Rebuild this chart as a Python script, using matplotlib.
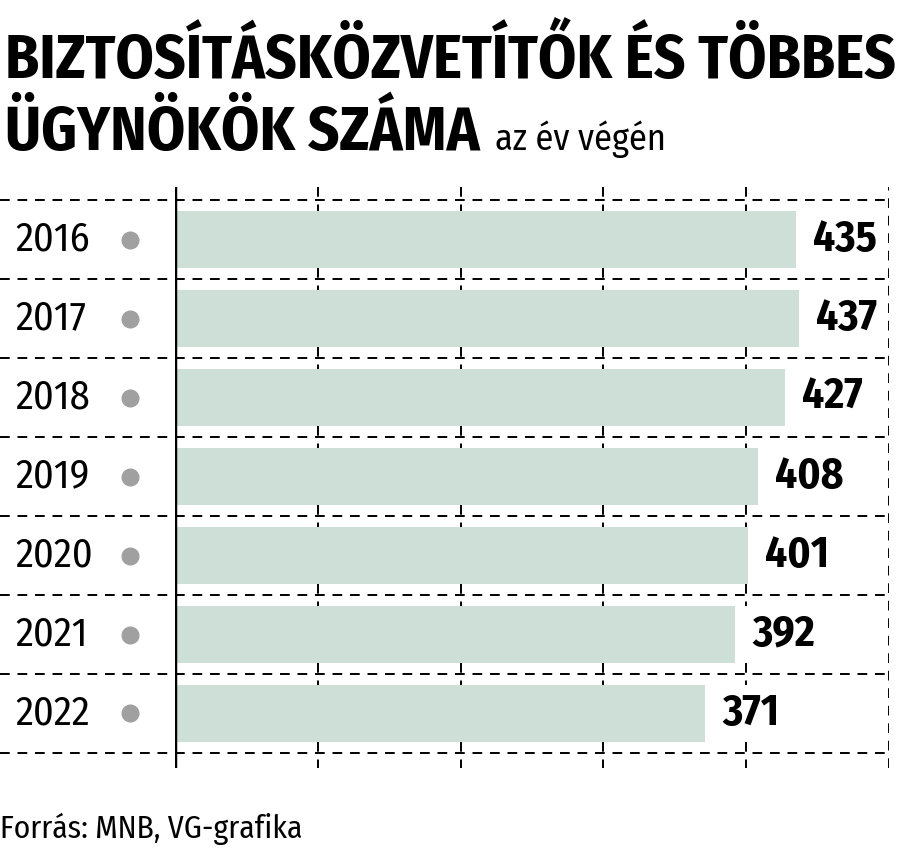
import matplotlib
matplotlib.use("Agg")
import matplotlib.pyplot as plt
from matplotlib import font_manager

years = ["2016", "2017", "2018", "2019", "2020", "2021", "2022"]
values = [435, 437, 427, 408, 401, 392, 371]

title_1 = "BIZTOSÍTÁSKÖZVETÍTŐK ÉS TÖBBES"
title_2 = "ÜGYNÖKÖK SZÁMA"
subtitle = "az év végén"
source = "Forrás: MNB, VG-grafika"

# condensed family close to the original, first one installed wins
names = {f.name for f in font_manager.fontManager.ttflist}
cands = ["Fira Sans Condensed", "PT Sans Narrow", "Roboto Condensed",
         "Liberation Sans Narrow", "DejaVu Sans"]
FONT = [c for c in cands if c in names][0]
plt.rcParams['font.family'] = [FONT, "DejaVu Sans"]

W, H = 900, 864
fig = plt.figure(figsize=(W / 100, H / 100), dpi=100)
# axes box in pixels: x 175..889, y 187..768
ax = fig.add_axes([175 / W, 1 - 768 / H, (889 - 175) / W, (768 - 187) / H])

bh = 0.71
pos = list(range(len(years)))
ax.barh(pos, values, height=bh, color="#cddfd7", zorder=1)
ax.set_xlim(0, 500)
ax.set_ylim(6.69, -0.665)

dash = dict(color="black", lw=1.4, ls=(0, (5, 4)))
# inner grid lines only show in the gaps between the bar bands
gaps = [(-0.665, -bh / 2)] + [(p + bh / 2, p + 1 - bh / 2) for p in pos[:-1]] + [(pos[-1] + bh / 2, 6.69)]
for x in range(100, 500, 100):
    for g0, g1 in gaps:
        ax.plot([x, x], [g0, g1], zorder=0, **dash)
ax.axvline(500, zorder=0, **dash)
for b in [p - 0.5 for p in pos] + [pos[-1] + 0.5]:
    ax.axhline(b, xmin=-175 / 714, xmax=1.0, clip_on=False, zorder=2, **dash)
ax.axvline(0, color="black", lw=2.5, zorder=3)

for p, y, v in zip(pos, years, values):
    ax.text(v + 12, p, str(v), ha="left", va="center", fontsize=31,
            fontweight="bold", color="black")
    ax.text(-160 / 714 * 500, p, y, ha="left", va="center", fontsize=29,
            color="black", clip_on=False)
    ax.plot([-45 / 714 * 500], [p], "o", color="#a0a0a0", ms=12,
            clip_on=False, zorder=4)

for s in ax.spines.values():
    s.set_visible(False)
ax.set_xticks([])
ax.set_yticks([])

fig.text(5 / W, 1 - 78 / H, title_1, ha="left", va="baseline", fontsize=44,
         fontweight="bold")
t2 = fig.text(5 / W, 1 - 150 / H, title_2, ha="left", va="baseline", fontsize=44,
              fontweight="bold")
fig.canvas.draw()
bb = t2.get_window_extent()
fig.text((bb.x1 + 15) / W, 1 - 150 / H, subtitle, ha="left", va="baseline",
         fontsize=26)
fig.text(0, 1 - 838 / H, source, ha="left", va="baseline", fontsize=22.7)

fig.savefig("out.png", dpi=100, facecolor="white")
